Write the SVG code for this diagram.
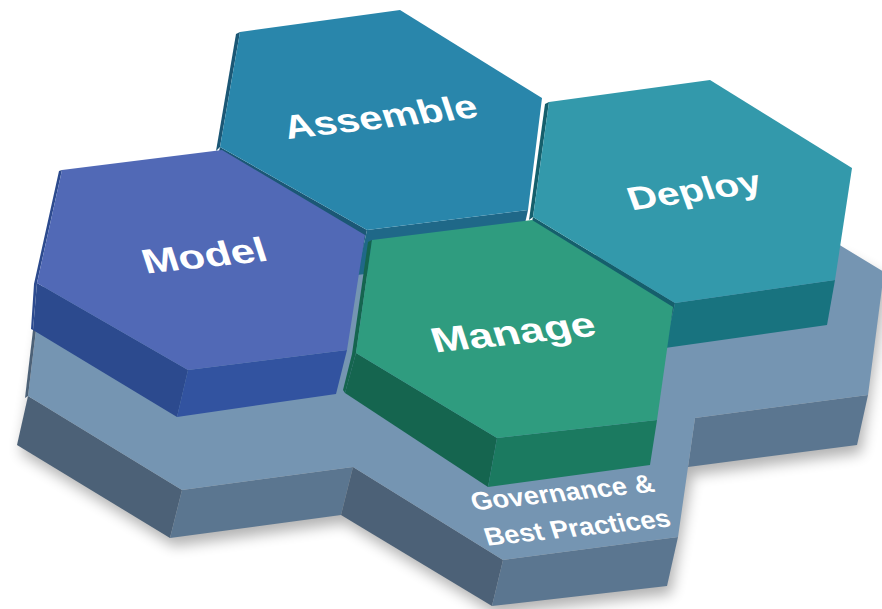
<svg xmlns="http://www.w3.org/2000/svg" width="882" height="609" viewBox="0 0 882 609">
  <defs>
    <filter id="soft" x="-10%" y="-10%" width="120%" height="130%">
      <feGaussianBlur stdDeviation="7"/>
    </filter>
    <style>
      .label { font-family: "Liberation Sans", Arial, sans-serif; font-weight: bold; fill: #ffffff; text-anchor: middle; }
      .base-top { fill: #7595b2; }
      .base-left { fill: #4c6177; }
      .base-right { fill: #5b7690; }
      .asm-top { fill: #2986ab; }
      .asm-left { fill: #1b5775; }
      .asm-right { fill: #1f6888; }
      .mdl-top { fill: #5169b6; }
      .mdl-left { fill: #2c4a8e; }
      .mdl-right { fill: #3253a0; }
      .dpl-top { fill: #3399ab; }
      .dpl-left { fill: #155f6c; }
      .dpl-right { fill: #18737f; }
      .mng-top { fill: #2f9c7f; }
      .mng-left { fill: #15654f; }
      .mng-right { fill: #1b7a60; }
    </style>
  </defs>

  <rect width="882" height="609" fill="#ffffff"/>

  <!-- soft drop shadow under the whole slab -->
  <polygon points="36,330 17,445 170,538 341,515 492,606 667,586 688,467 857,445 884,272 840,250 700,250 350,300 44,283"
           fill="#000" opacity="0.3" filter="url(#soft)" transform="translate(4,8)"/>

  <!-- Governance & Best Practices slab -->
  <g id="base">
    <polygon class="base-right" points="695,418 868,395 857,445 688,467"/>
    <polygon class="base-left" points="28,396 182,490 170,538 17,445"/>
    <polygon class="base-right" points="182,490 353,467 341,515 170,538"/>
    <polygon class="base-left" points="353,467 503,560 492,606 341,515"/>
    <polygon class="base-right" points="503,560 678,537 667,586 492,606"/>
    <polygon class="base-top" points="44,283 36,330 28,396 182,490 353,467 503,560 678,537 695,418 868,395 884,272 731,179 650,250 540,260 380,260 368,244 300,250"/>
    <polygon class="base-left" points="33,330 36,330 28,396 25,398"/>
    <text class="label" font-size="27" transform="translate(565,501) rotate(-6) skewX(12) scale(1,0.95)">Governance &amp;</text>
    <text class="label" font-size="27" transform="translate(580,536) rotate(-6) skewX(12) scale(1,0.95)">Best Practices</text>
  </g>

  <!-- Assemble -->
  <g id="assemble">
    <polygon class="asm-left" points="220,147 367,230 357,275 210,192"/>
    <polygon class="asm-right" points="367,230 528,210 518,255 357,275"/>
    <polygon class="asm-left" points="236,34 240,32 220,147 216,151"/>
    <polygon class="asm-top" points="240,32 400,10 542,98 528,210 367,230 220,147"/>
    <text class="label" font-size="41" transform="translate(384,128) rotate(-6.5) skewX(12) scale(1,0.82)">Assemble</text>
  </g>

  <!-- Deploy -->
  <g id="deploy">
    <polygon class="dpl-left" points="533,217 675,303 665,348 523,262"/>
    <polygon class="dpl-right" points="675,303 835,280 827,325 665,348"/>
    <polygon class="dpl-left" points="545,104 549,102 533,217 529,220"/>
    <polygon class="dpl-top" points="549,102 710,80 852,168 835,280 675,303 533,217"/>
    <text class="label" font-size="40" transform="translate(698,201) rotate(-8) skewX(12) scale(1,0.82)">Deploy</text>
  </g>

  <!-- Model -->
  <g id="model">
    <polygon class="mdl-left" points="37,283 188,370 177,417 33,330"/>
    <polygon class="mdl-right" points="188,370 347,350 336,394 177,417"/>
    <polygon class="mdl-left" points="59,171 62,170 37,283 33,330 31,329 34,284"/>
    <polygon class="mdl-top" points="62,170 222,150 365,235 347,350 188,370 37,283"/>
    <text class="label" font-size="43" transform="translate(208,267) rotate(-6) skewX(12) scale(1,0.8)">Model</text>
  </g>

  <!-- Manage -->
  <g id="manage">
    <polygon class="mng-left" points="356,353 497,438 488,487 345,393"/>
    <polygon class="mng-right" points="497,438 657,420 650,465 488,487"/>
    <polygon class="mng-left" points="368,242 372,240 356,353 345,393 343,390 352,354"/>
    <polygon class="mng-top" points="372,240 532,220 673,307 657,420 497,438 356,353"/>
    <text class="label" font-size="44" transform="translate(517,344) rotate(-6) skewX(12) scale(1,0.8)">Manage</text>
  </g>
</svg>
